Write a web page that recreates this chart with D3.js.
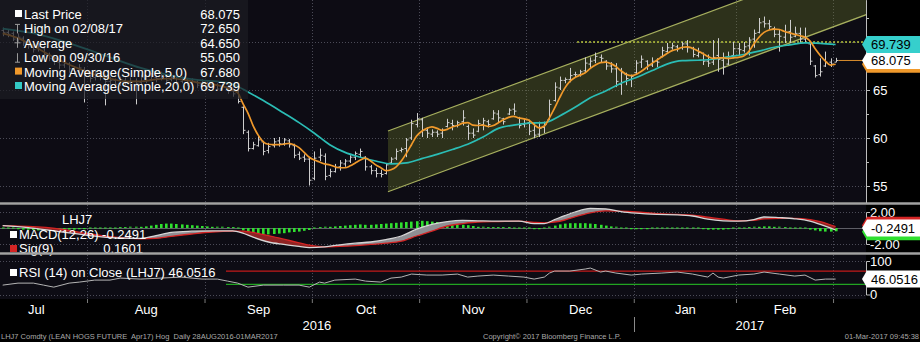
<!DOCTYPE html>
<html>
<head>
<meta charset="utf-8">
<title>LHJ7 Comdty</title>
<script src="https://cdn.jsdelivr.net/npm/d3@7/dist/d3.min.js"></script>
<style>
  html, body { margin: 0; padding: 0; background: #000; }
  svg { display: block; }
  text { font-family: "Liberation Sans", Arial, Helvetica, sans-serif; }
</style>
</head>
<body>
<svg id="chart" width="920" height="342"></svg>
<script>
// ---------- calendar (sessions counted from 1 Jul 2016) ----------
const firstSession = 3;
const monthLabels = ["Jul", "Aug", "Sep", "Oct", "Nov", "Dec", "Jan", "Feb"];
const monthStarts = [0, 20, 43, 64, 85, 106, 127, 147, 166];
const yearLabels = ["2016", "2017"];
const yearBreak = 127;

// ---------- daily OHLC bars, one value per session from firstSession ----------
const openP = [
  71.2, 71.0, 70.9, 70.2, 70.4, 69.8, 69.5, 69.3, 69.3, 68.6,
  68.2, 67.9, 67.6, 67.7, 67.1, 67.0, 67.1, 66.6, 66.3, 66.7,
  66.3, 65.9, 66.0, 65.7, 66.0, 65.8, 65.9, 65.8, 66.2, 66.1,
  66.3, 66.2, 66.4, 66.1, 66.2, 65.9, 66.0, 65.8, 65.8, 65.6,
  65.7, 65.4, 65.5, 65.2, 65.3, 64.9, 64.8, 63.2, 60.6, 58.9,
  59.2, 59.6, 58.7, 59.2, 59.7, 59.4, 59.7, 59.2, 58.3, 58.0,
  57.8, 55.8, 58.0, 58.1, 56.1, 56.5, 57.0, 57.3, 57.6, 58.0,
  58.3, 58.0, 57.0, 56.6, 56.3, 56.3, 57.4, 57.9, 58.7, 58.9,
  60.0, 61.4, 61.9, 60.8, 60.4, 60.6, 60.5, 61.2, 61.5, 61.3,
  61.7, 61.2, 60.5, 60.7, 61.4, 61.7, 62.0, 62.5, 62.0, 62.5,
  63.0, 62.1, 61.4, 61.6, 60.8, 60.4, 61.1, 61.9, 63.9, 65.2,
  66.0, 66.1, 66.6, 66.6, 67.0, 67.7, 68.1, 68.4, 68.0, 67.5,
  67.2, 65.6, 66.6, 66.1, 66.8, 67.9, 68.0, 67.6, 68.0, 68.5,
  69.0, 69.4, 69.5, 69.4, 69.8, 69.3, 68.6, 68.8, 68.0, 67.9,
  68.6, 68.1, 67.7, 68.6, 69.3, 69.1, 69.6, 70.3, 71.0, 72.1,
  71.9, 71.4, 70.8, 70.5, 71.1, 70.6, 70.9, 70.3, 69.8, 67.5,
  66.6, 67.5, 67.9, 67.9
];
const highP = [
  71.5, 71.3, 71.1, 70.9, 70.6, 70.1, 69.8, 69.9, 69.5, 68.9,
  68.6, 68.2, 68.2, 67.9, 67.5, 67.7, 67.4, 66.9, 67.1, 66.9,
  66.6, 66.4, 66.2, 66.4, 66.3, 66.3, 66.2, 66.6, 66.5, 66.8,
  66.6, 66.9, 66.6, 66.6, 66.4, 66.4, 66.2, 66.2, 66.0, 66.1,
  65.9, 65.9, 65.7, 65.7, 65.5, 65.2, 65.0, 63.3, 60.8, 59.6,
  60.2, 59.7, 59.5, 60.0, 60.1, 60.0, 59.9, 59.4, 58.6, 58.3,
  58.0, 58.6, 58.9, 58.4, 56.8, 57.3, 57.7, 57.8, 58.2, 58.6,
  58.9, 58.1, 57.2, 56.9, 56.7, 57.4, 58.0, 58.9, 59.0, 60.0,
  61.9, 62.6, 62.1, 61.1, 60.9, 60.8, 61.0, 62.0, 61.9, 61.8,
  62.9, 61.4, 61.0, 61.9, 62.1, 61.9, 62.9, 62.9, 62.1, 63.1,
  63.6, 62.2, 62.0, 61.9, 61.6, 61.7, 61.7, 64.0, 65.8, 66.4,
  66.3, 67.3, 66.9, 67.1, 68.4, 68.4, 68.9, 68.7, 68.1, 67.9,
  67.8, 67.3, 66.8, 66.6, 68.1, 68.6, 68.1, 68.4, 68.3, 69.5,
  69.9, 69.9, 69.7, 70.0, 70.2, 69.5, 69.4, 68.9, 68.7, 70.2,
  70.4, 68.9, 69.0, 70.0, 69.9, 70.0, 70.5, 71.3, 72.5, 72.65,
  72.3, 71.6, 71.3, 71.8, 72.3, 71.6, 71.5, 71.5, 69.9, 67.6,
  68.3, 69.0, 68.3, 68.35
];
const lowP = [
  70.6, 70.5, 70.1, 70.0, 69.6, 69.3, 68.9, 69.0, 68.4, 68.0,
  67.6, 67.2, 67.3, 66.8, 66.5, 66.8, 63.7, 65.8, 66.0, 66.0,
  63.4, 65.5, 65.2, 65.4, 65.5, 65.4, 63.5, 65.5, 65.7, 65.9,
  65.8, 66.0, 65.7, 65.9, 65.5, 65.7, 65.4, 65.5, 65.2, 65.4,
  65.1, 65.2, 64.9, 65.0, 64.6, 64.3, 63.6, 60.4, 58.6, 58.8,
  59.1, 58.2, 58.4, 59.0, 59.1, 59.2, 59.0, 57.9, 57.7, 57.5,
  55.05, 55.6, 57.6, 55.6, 55.9, 56.4, 56.6, 57.0, 57.4, 57.7,
  58.0, 56.6, 56.2, 55.9, 55.9, 56.2, 57.3, 57.7, 58.5, 58.0,
  59.8, 61.1, 60.1, 60.0, 60.1, 60.1, 60.0, 61.1, 60.8, 61.1,
  61.3, 59.8, 60.0, 60.6, 60.8, 61.1, 61.9, 61.6, 61.4, 62.4,
  62.4, 61.0, 61.1, 60.3, 60.0, 60.1, 60.5, 61.9, 63.8, 65.0,
  65.7, 65.8, 66.3, 66.4, 66.8, 67.3, 67.8, 67.9, 67.1, 66.8,
  65.3, 64.5, 65.5, 65.3, 66.6, 67.3, 67.1, 67.4, 67.4, 68.4,
  68.9, 69.2, 69.0, 69.2, 68.9, 68.4, 68.4, 67.6, 67.4, 67.6,
  66.9, 66.6, 67.6, 68.3, 68.6, 68.9, 68.6, 69.4, 70.9, 71.5,
  71.3, 70.5, 69.0, 69.9, 69.9, 70.5, 69.9, 70.0, 67.6, 66.3,
  66.4, 67.4, 67.4, 67.9
];
const closeP = [
  71.0, 70.8, 70.3, 70.5, 69.9, 69.6, 69.2, 69.5, 68.7, 68.3,
  68.0, 67.6, 67.8, 67.2, 66.9, 67.3, 66.5, 66.2, 66.8, 66.4,
  65.9, 66.0, 65.6, 66.1, 65.8, 65.9, 65.7, 66.3, 66.0, 66.4,
  66.2, 66.5, 66.0, 66.3, 65.8, 66.1, 65.7, 65.9, 65.5, 65.8,
  65.4, 65.6, 65.1, 65.4, 64.9, 64.6, 63.8, 60.8, 58.9, 59.3,
  59.8, 58.6, 59.1, 59.6, 59.4, 59.8, 59.3, 58.2, 57.9, 57.8,
  55.6, 57.9, 58.2, 56.0, 56.5, 56.9, 57.4, 57.6, 58.0, 58.4,
  58.6, 57.0, 56.6, 56.3, 56.2, 57.2, 57.8, 58.6, 58.8, 59.8,
  61.5, 62.0, 60.8, 60.5, 60.6, 60.4, 60.8, 61.6, 61.3, 61.6,
  62.1, 60.5, 60.3, 61.5, 61.8, 61.4, 62.6, 62.1, 61.7, 62.9,
  62.8, 61.3, 61.5, 60.7, 60.3, 61.0, 61.4, 63.5, 65.3, 66.0,
  66.1, 66.5, 66.6, 66.9, 67.8, 68.0, 68.5, 68.3, 67.5, 67.2,
  65.9, 66.8, 66.2, 66.4, 67.8, 68.2, 67.6, 68.0, 67.9, 69.1,
  69.4, 69.6, 69.3, 69.8, 69.4, 68.7, 68.9, 68.0, 67.8, 68.4,
  68.2, 67.4, 68.5, 69.3, 69.2, 69.5, 70.2, 70.9, 72.0, 71.9,
  71.6, 70.8, 70.6, 71.0, 70.5, 70.9, 70.3, 70.4, 68.0, 66.5,
  66.9, 67.9, 67.7, 68.075
];

// ---------- moving averages (session, value) ----------
const ma5Idx = [3, 6, 9, 12, 15, 18, 21, 24, 27, 30, 33, 36, 39, 42, 45, 48,
  49, 50, 51, 52, 53, 54, 55, 56, 57, 58, 59, 60, 61, 62, 63, 64, 65, 66, 67, 68,
  69, 70, 71, 72, 73, 74, 75, 76, 77, 78, 79, 80, 81, 82, 83, 84, 85, 86, 87, 88,
  89, 90, 91, 92, 93, 94, 95, 96, 97, 98, 99, 100, 101, 102, 103, 104, 105, 106, 107, 108,
  109, 110, 111, 112, 113, 114, 115, 116, 117, 118, 119, 120, 121, 122, 123, 124, 125, 126, 127, 128,
  129, 130, 131, 132, 133, 134, 135, 136, 137, 138, 139, 140, 141, 142, 143, 144, 145, 146, 147, 148,
  149, 150, 151, 152, 153, 154, 155, 156, 157, 158, 159, 160, 161, 162, 163, 164, 165, 166];
const ma5Val = [70.9, 70.4, 69.6, 68.7, 67.9, 67.2, 66.6, 66.2, 65.9, 65.9, 66.1, 66.2, 66.0, 65.7, 65.5, 65.0,
  64.7, 63.6, 62.6, 61.3, 60.3, 59.6, 59.35, 59.3, 59.3, 59.35, 59.45, 59.3, 59.0, 58.5, 58.0, 57.7, 57.5, 57.3, 57.2, 57.0,
  56.9, 56.9, 57.1, 57.4, 57.7, 57.9, 57.6, 57.2, 56.9, 56.6, 56.7, 57.0, 57.6, 58.4, 59.3, 60.2, 60.7, 61.0, 61.15, 61.0,
  60.8, 60.9, 61.15, 61.3, 61.55, 61.6, 61.35, 61.3, 61.35, 61.2, 61.3, 61.6, 61.9, 62.15, 62.25, 62.1, 62.0, 61.85, 61.4, 61.05,
  61.25, 62.1, 63.1, 64.2, 65.2, 65.9, 66.3, 66.55, 66.8, 67.25, 67.6, 67.85, 67.9, 67.75, 67.45, 67.0, 66.65, 66.5, 66.65, 66.95,
  67.35, 67.75, 68.1, 68.45, 68.8, 69.1, 69.25, 69.45, 69.5, 69.35, 69.1, 68.8, 68.5, 68.3, 68.35, 68.35, 68.3, 68.35, 68.4, 68.55,
  69.0, 69.8, 70.5, 71.0, 71.25, 71.35, 71.3, 71.1, 70.95, 70.8, 70.65, 70.5, 70.1, 69.3, 68.6, 68.0, 67.6, 67.68];
const ma20Idx = [3, 10, 17, 24, 30, 36, 42, 45, 48, 51, 54, 58, 61, 64, 67, 70, 73, 76, 79, 82, 85, 88,
  91, 94, 97, 100, 103, 106, 109, 112, 115, 118, 121, 124, 127, 130, 133, 136, 139, 142, 145, 148,
  151, 154, 157, 160, 163, 166];
const ma20Val = [71.4, 70.8, 69.7, 68.4, 67.3, 66.5, 66.0, 65.9, 65.6, 64.8, 63.9, 62.6, 61.6, 60.5, 59.3, 58.5, 58.0, 57.6, 57.3, 57.4, 57.85, 58.3,
  58.8, 59.35, 60.1, 61.0, 61.35, 61.55, 61.6, 62.3, 63.2, 64.2, 64.9, 65.7, 66.3, 67.0, 67.7, 68.05, 68.1, 68.2, 68.45, 68.7,
  69.05, 69.45, 69.7, 69.9, 69.85, 69.739];

// ---------- trend channel and resistance level ----------
const chanIdx = [78.9, 172.5];
const chanLower = [54.4, 72.85];
const chanUpper = [60.73, 79.18];
const levelFrom = 115.9;
const levelValue = 70.0;

// ---------- MACD(12,26) with Sig(9) ----------
const macdIdx = [3, 8, 14, 20, 25, 30, 33, 36, 40, 44, 48, 50, 52, 55, 58, 61, 63, 66, 69, 72, 75, 78, 81, 84, 87, 90,
  93, 96, 100, 104, 107, 109, 111, 113, 115, 118, 121, 124, 127, 131, 135, 138, 141, 144, 147, 150, 152, 155, 158, 161, 163, 166];
const macdVal = [0.30, 0.05, -0.45, -0.95, -1.25, -1.30, -0.95, -0.55, -0.40, -0.35, -0.35, -0.65, -1.15, -1.75, -2.05, -2.30, -2.45, -2.35, -2.10, -1.90, -1.75, -1.45, -1.00, -0.15, 0.45, 0.80,
  0.95, 0.90, 0.85, 0.85, 0.55, 0.55, 1.05, 1.55, 2.00, 2.45, 2.40, 2.05, 1.85, 1.70, 1.65, 1.50, 1.10, 0.90, 0.85, 1.05, 1.40, 1.30, 1.15, 0.85, 0.45, -0.2491];
const sigVal = [0.30, 0.20, -0.10, -0.75, -1.15, -1.35, -1.30, -1.05, -0.75, -0.50, -0.40, -0.40, -0.55, -0.95, -1.40, -1.85, -2.15, -2.35, -2.30, -2.20, -2.05, -1.90, -1.65, -1.00, -0.40, 0.25,
  0.55, 0.75, 0.80, 0.85, 0.70, 0.65, 0.75, 1.00, 1.40, 1.90, 2.15, 2.10, 2.00, 1.80, 1.70, 1.60, 1.35, 1.10, 0.90, 0.95, 1.15, 1.20, 1.20, 1.05, 0.80, 0.1601];
const histVal = [
  -0.05, -0.1, -0.1, -0.15, -0.2, -0.2, -0.25, -0.3, -0.3, -0.3,
  -0.3, -0.25, -0.25, -0.2, -0.2, -0.15, -0.15, -0.1, -0.1, -0.05,
  -0.05, 0, 0, 0.05, 0.05, 0.1, 0.1, 0.15, 0.2, 0.3,
  0.4, 0.5, 0.55, 0.55, 0.5, 0.45, 0.4, 0.35, 0.3, 0.25,
  0.2, 0.15, 0.1, 0.1, 0.05, 0.05, -0.1, -0.3, -0.5, -0.65,
  -0.75, -0.8, -0.8, -0.75, -0.7, -0.65, -0.55, -0.5, -0.45, -0.35,
  -0.25, -0.1, 0.05, 0.1, 0.15, 0.2, 0.25, 0.3, 0.35, 0.4,
  0.45, 0.4, 0.4, 0.45, 0.5, 0.55, 0.6, 0.65, 0.7, 0.75,
  0.8, 0.85, 0.9, 0.85, 0.8, 0.75, 0.65, 0.55, 0.45, 0.4,
  0.4, 0.35, 0.25, 0.15, 0.1, 0.05, 0.05, 0.05, 0.05, 0.05,
  0, 0, -0.05, -0.1, -0.15, -0.15, -0.1, 0.1, 0.3, 0.45,
  0.55, 0.6, 0.6, 0.6, 0.6, 0.55, 0.5, 0.4, 0.3, 0.2,
  0.1, 0, -0.1, -0.15, -0.15, -0.15, -0.15, -0.1, -0.1, -0.05,
  -0.05, -0.05, -0.05, -0.05, -0.05, -0.1, -0.1, -0.15, -0.2, -0.2,
  -0.2, -0.2, -0.15, -0.1, -0.05, 0, 0.05, 0.1, 0.15, 0.2,
  0.2, 0.15, 0.1, 0.05, 0, -0.05, -0.05, -0.1, -0.2, -0.3,
  -0.4, -0.45, -0.45, -0.41
];

// ---------- RSI(14) on close ----------
const rsiIdx = [3, 6, 9, 11, 13, 16, 18, 21, 24, 26, 30, 34, 38, 42, 45, 47, 49, 51, 54, 58, 61, 63, 65, 66, 68, 72, 74, 77,
  79, 81, 83, 86, 89, 92, 94, 96, 99, 102, 105, 107, 109, 110, 111, 114, 117, 118, 120, 121, 123, 126, 128, 132, 135,
  138, 141, 142, 143, 144, 147, 150, 152, 155, 158, 160, 162, 164, 166];
const rsiVal = [28, 34, 34, 28, 22, 34, 37, 43, 43, 49, 46, 49, 52, 46, 46, 40, 34, 22, 28, 28, 28, 22, 37, 34, 43, 46, 40, 37,
  49, 52, 61, 58, 58, 61, 52, 55, 58, 55, 52, 46, 52, 64, 70, 70, 76, 79, 67, 70, 64, 58, 61, 64, 67,
  61, 52, 64, 52, 49, 58, 61, 67, 61, 55, 58, 43, 46, 46.0516];
const rsiLevels = [70, 30];
const rsiGuideFrom = 47.2;

// ---------- text ----------
const legendRows = [
  { mark: "square", color: "#ffffff", label: "Last Price", value: "68.075" },
  { mark: "high", label: "High on 02/08/17", value: "72.650" },
  { mark: "avg", label: "Average", value: "64.650" },
  { mark: "low", label: "Low on 09/30/16", value: "55.050" },
  { mark: "square", color: "#f0992b", label: "Moving Average(Simple,5,0)", value: "67.680" },
  { mark: "square", color: "#33c9c4", label: "Moving Average(Simple,20,0)", value: "69.739" }
];
const priceTickLabels = [55, 60, 65];
const priceTickMarks = [55, 60, 65, 70];
const priceMinorTicks = [57.5, 62.5, 67.5, 72.5];
const footerLeft = "LHJ7 Comdty (LEAN HOGS FUTURE  Apr17) Hog  Daily 28AUG2016-01MAR2017";
const footerMid = "Copyright\u00A9 2017 Bloomberg Finance L.P.";
const footerRight = "01-Mar-2017 09:45:38";

// ---------- layout ----------
const W = 920, H = 342, PLOT_R = 866;
const PANEL = { price: [0, 202], macd: [205, 252], rsi: [255, 299] };
const COL = {
  bg: "#0d0c14", grid: "#4b4b57", bar: "#cdcdcd", ma5: "#f0992b", ma20: "#2bbdb5",
  chanFill: "#6f7d2c", chanLine: "#a6af5e", level: "#b9c63c",
  macd: "#d6d6d6", sig: "#d42424", hist: "#2fe02f", axis: "#bdbdbd"
};

const x = d3.scaleLinear().domain([0, 170]).range([-15.2, -15.2 + 170 * 5.11]);
const yP = d3.scaleLinear().domain([55, 70]).range([186, 42]);
const yM = d3.scaleLinear().domain([-2, 2]).range([244, 212]);
const yR = d3.scaleLinear().domain([0, 100]).range([294.5, 261]);
const cx = i => x(i + 0.5);

const svg = d3.select("#chart");
const defs = svg.append("defs");
function panelClip(id, [a, b]) {
  defs.append("clipPath").attr("id", id).append("rect")
    .attr("x", 0).attr("y", a).attr("width", PLOT_R).attr("height", b - a);
}
panelClip("clip-price", PANEL.price);
panelClip("clip-macd", PANEL.macd);
panelClip("clip-rsi", PANEL.rsi);

svg.append("rect").attr("width", W).attr("height", H).attr("fill", "#000");
Object.values(PANEL).forEach(([a, b]) => {
  svg.append("rect").attr("x", 0).attr("y", a).attr("width", PLOT_R).attr("height", b - a).attr("fill", COL.bg);
});

// dotted grid
const boundaries = monthStarts.filter(s => x(s) > 1 && x(s) < PLOT_R);
const gridG = svg.append("g").attr("stroke", COL.grid).attr("stroke-dasharray", "1,2").attr("fill", "none");
Object.values(PANEL).forEach(([a, b]) => {
  gridG.append("g").selectAll("line").data(boundaries).join("line")
    .attr("x1", s => Math.round(x(s)) + 0.5).attr("x2", s => Math.round(x(s)) + 0.5)
    .attr("y1", a).attr("y2", b);
});
const hGrid = [...priceTickMarks.map(v => yP(v)), yM(2), yM(-2), yR(100), yR(0)];
gridG.append("g").selectAll("line").data(hGrid).join("line")
  .attr("x1", 0).attr("x2", PLOT_R).attr("y1", d => Math.round(d) + 0.5).attr("y2", d => Math.round(d) + 0.5);

// ---------- price panel ----------
const pg = svg.append("g").attr("clip-path", "url(#clip-price)");
const chanPoly = [
  [x(chanIdx[0]), yP(chanLower[0])], [x(chanIdx[1]), yP(chanLower[1])],
  [x(chanIdx[1]), yP(chanUpper[1])], [x(chanIdx[0]), yP(chanUpper[0])]
];
pg.append("path").attr("d", d3.line()(chanPoly) + "Z").attr("fill", COL.chanFill).attr("fill-opacity", 0.33);
[chanLower, chanUpper].forEach(edge => {
  pg.append("line")
    .attr("x1", x(chanIdx[0])).attr("y1", yP(edge[0])).attr("x2", x(chanIdx[1])).attr("y2", yP(edge[1]))
    .attr("stroke", COL.chanLine).attr("stroke-width", 1.2);
});
pg.append("line")
  .attr("x1", x(levelFrom)).attr("x2", PLOT_R).attr("y1", yP(levelValue)).attr("y2", yP(levelValue))
  .attr("stroke", COL.level).attr("stroke-width", 1.4).attr("stroke-dasharray", "2,2");

const bars = openP.map((o, k) => ({ i: firstSession + k, o, h: highP[k], l: lowP[k], c: closeP[k] }));
pg.append("g").attr("stroke", COL.bar).attr("stroke-width", 1).attr("fill", "none")
  .selectAll("path").data(bars).join("path")
  .attr("d", d => {
    const bx = Math.round(cx(d.i)) + 0.5;
    return `M${bx},${yP(d.h)}V${yP(d.l)}M${bx - 2},${yP(d.o)}H${bx}M${bx},${yP(d.c)}H${bx + 2}`;
  });

const maLine = d3.line().x(d => cx(d[0])).y(d => yP(d[1])).curve(d3.curveMonotoneX);
pg.append("path").datum(d3.zip(ma20Idx, ma20Val)).attr("d", maLine)
  .attr("fill", "none").attr("stroke", COL.ma20).attr("stroke-width", 1.7);
pg.append("path").datum(d3.zip(ma5Idx, ma5Val)).attr("d", maLine)
  .attr("fill", "none").attr("stroke", COL.ma5).attr("stroke-width", 1.7);

const lastClose = closeP[closeP.length - 1];
const lastSession = firstSession + closeP.length - 1;
pg.append("line")
  .attr("x1", cx(lastSession) + 3).attr("x2", PLOT_R).attr("y1", yP(lastClose)).attr("y2", yP(lastClose))
  .attr("stroke", "#d88d2e").attr("stroke-width", 1);

// legend
const lg = svg.append("g");
lg.append("rect").attr("x", 0).attr("y", 0).attr("width", 248).attr("height", 99)
  .attr("fill", "#1c1c23").attr("fill-opacity", 0.72);
legendRows.forEach((r, k) => {
  const yb = 19 + k * 14.4;
  if (r.mark === "square") {
    lg.append("rect").attr("x", 15).attr("y", yb - 9).attr("width", 7).attr("height", 7).attr("fill", r.color);
  } else {
    const glyph = {
      high: `M15,${yb - 9}H20M17.5,${yb - 9}V${yb}`,
      avg: `M17.5,${yb - 10}V${yb}M14.5,${yb - 5}H20.5`,
      low: `M17.5,${yb - 9}V${yb}M15,${yb}H20`
    }[r.mark];
    lg.append("path").attr("d", glyph).attr("stroke", "#9a9a9a").attr("fill", "none").attr("stroke-width", 1);
  }
  lg.append("text").attr("x", 24).attr("y", yb).attr("fill", "#fff").attr("font-size", 13).text(r.label);
  lg.append("text").attr("x", 240).attr("y", yb).attr("fill", "#fff").attr("font-size", 13)
    .attr("text-anchor", "end").text(r.value);
});

// ---------- MACD panel ----------
const mg = svg.append("g").attr("clip-path", "url(#clip-macd)");
mg.append("line").attr("x1", 0).attr("x2", PLOT_R).attr("y1", Math.round(yM(0)) + 0.5).attr("y2", Math.round(yM(0)) + 0.5)
  .attr("stroke", "#5e5e66").attr("stroke-width", 1);
const histData = histVal.map((v, k) => ({ i: firstSession + k, v }));
mg.append("g").selectAll("rect").data(histData).join("rect")
  .attr("x", d => Math.round(cx(d.i)) - 1)
  .attr("width", 2.6)
  .attr("y", d => Math.min(yM(0), yM(d.v)) - (Math.abs(yM(d.v) - yM(0)) < 1 ? 0.5 : 0))
  .attr("height", d => Math.max(1, Math.abs(yM(d.v) - yM(0))))
  .attr("fill", COL.hist);

const macdPts = macdIdx.map((i, k) => ({ i, m: macdVal[k], s: sigVal[k] }));
const band = d3.area().x(d => cx(d.i)).y0(d => yM(d.s)).y1(d => yM(d.m)).curve(d3.curveMonotoneX);
const aboveMacd = d3.area().x(d => cx(d.i)).y0(PANEL.macd[0] - 10).y1(d => yM(d.m)).curve(d3.curveMonotoneX);
const belowMacd = d3.area().x(d => cx(d.i)).y0(d => yM(d.m)).y1(PANEL.macd[1] + 10).curve(d3.curveMonotoneX);
defs.append("clipPath").attr("id", "macd-under").append("path").attr("d", aboveMacd(macdPts));
defs.append("clipPath").attr("id", "macd-over").append("path").attr("d", belowMacd(macdPts));
mg.append("g").attr("clip-path", "url(#macd-over)")
  .append("path").attr("d", band(macdPts)).attr("fill", "#8f8f94");
mg.append("g").attr("clip-path", "url(#macd-under)")
  .append("path").attr("d", band(macdPts)).attr("fill", "#8e2323");
mg.append("path").datum(macdPts)
  .attr("d", d3.line().x(d => cx(d.i)).y(d => yM(d.s)).curve(d3.curveMonotoneX))
  .attr("fill", "none").attr("stroke", COL.sig).attr("stroke-width", 1.3);
mg.append("path").datum(macdPts)
  .attr("d", d3.line().x(d => cx(d.i)).y(d => yM(d.m)).curve(d3.curveMonotoneX))
  .attr("fill", "none").attr("stroke", COL.macd).attr("stroke-width", 1.3);

const mLegend = svg.append("g").attr("font-size", 13).attr("fill", "#fff");
mLegend.append("text").attr("x", 62).attr("y", 224).text("LHJ7");
mLegend.append("rect").attr("x", 10).attr("y", 231).attr("width", 7).attr("height", 7).attr("fill", "#fff");
mLegend.append("text").attr("x", 19).attr("y", 239)
  .text(`MACD(12,26) ${macdVal[macdVal.length - 1].toFixed(4)}`);
mLegend.append("rect").attr("x", 10).attr("y", 245).attr("width", 7).attr("height", 7).attr("fill", COL.sig);
mLegend.append("text").attr("x", 19).attr("y", 253).text("Sig(9)");
mLegend.append("text").attr("x", 143).attr("y", 253).attr("text-anchor", "end")
  .text(sigVal[sigVal.length - 1].toFixed(4));

// ---------- RSI panel ----------
const rg = svg.append("g").attr("clip-path", "url(#clip-rsi)");
rsiLevels.forEach((lv, k) => {
  rg.append("line").attr("x1", x(rsiGuideFrom)).attr("x2", PLOT_R)
    .attr("y1", yR(lv)).attr("y2", yR(lv))
    .attr("stroke", k === 0 ? "#c21a1a" : "#22a422").attr("stroke-width", 1.2);
});
rg.append("path").datum(d3.zip(rsiIdx, rsiVal))
  .attr("d", d3.line().x(d => cx(d[0])).y(d => yR(d[1])))
  .attr("fill", "none").attr("stroke", "#b4b4b4").attr("stroke-width", 1);
const rLegend = svg.append("g").attr("font-size", 13).attr("fill", "#fff");
rLegend.append("rect").attr("x", 10).attr("y", 269).attr("width", 7).attr("height", 7).attr("fill", "#fff");
rLegend.append("text").attr("x", 19).attr("y", 277)
  .text(`RSI (14) on Close (LHJ7) ${rsiVal[rsiVal.length - 1].toFixed(4)}`);

// ---------- panel separators ----------
[203.5, 253.5].forEach(yy => {
  svg.append("line").attr("x1", 0).attr("x2", W).attr("y1", yy).attr("y2", yy)
    .attr("stroke", "#a2a2a2").attr("stroke-width", 2.5);
});

// ---------- right axes ----------
function styleAxis(g) {
  g.selectAll(".domain").attr("stroke", COL.axis);
  g.selectAll(".tick line").attr("stroke", COL.axis);
  g.selectAll(".tick text").attr("fill", "#fff").attr("font-size", 13)
    .attr("font-family", '"Liberation Sans", Arial, sans-serif');
}
const yPaxis = yP.copy().domain([yP.invert(PANEL.price[0]), yP.invert(PANEL.price[1])])
  .range([PANEL.price[0], PANEL.price[1]]);
svg.append("g").attr("transform", `translate(${PLOT_R},0)`)
  .call(d3.axisRight(yPaxis).tickValues(priceMinorTicks).tickSize(3).tickSizeOuter(0).tickFormat(""))
  .call(styleAxis);
svg.append("g").attr("transform", `translate(${PLOT_R},0)`)
  .call(d3.axisRight(yPaxis).tickValues(priceTickMarks).tickSize(4).tickSizeOuter(0).tickFormat(""))
  .call(styleAxis);
svg.append("g").attr("transform", `translate(${PLOT_R},0)`)
  .call(d3.axisRight(yPaxis).tickValues(priceTickLabels).tickSize(4).tickSizeOuter(0).tickPadding(3)
    .tickFormat(d3.format("d")))
  .call(styleAxis);
svg.append("g").attr("transform", `translate(${PLOT_R},0)`)
  .call(d3.axisRight(yM).tickValues([2, -2]).tickSize(0).tickSizeOuter(4).tickPadding(4)
    .tickFormat(d => d.toFixed(2)))
  .call(styleAxis);
svg.append("g").attr("transform", `translate(${PLOT_R},0)`)
  .call(d3.axisRight(yR).tickValues([100, 0]).tickSize(0).tickSizeOuter(4).tickPadding(4)
    .tickFormat(d3.format("d")))
  .call(styleAxis);

// value tags on the axis
function tag(cy, fill, label, textFill) {
  const h = 8.5;
  svg.append("path")
    .attr("d", `M${PLOT_R - 4},${cy}L${PLOT_R + 1},${cy - h}H${W}V${cy + h}H${PLOT_R + 1}Z`)
    .attr("fill", fill);
  if (label) {
    svg.append("text").attr("x", 871).attr("y", cy + 4.7).attr("font-size", 13)
      .attr("fill", textFill || "#000").text(label);
  }
}
const ma5Last = ma5Val[ma5Val.length - 1];
const ma20Last = ma20Val[ma20Val.length - 1];
tag(yP(ma5Last), COL.ma5, null);
tag(yP(lastClose), "#ffffff", lastClose.toFixed(3));
tag(yP(ma20Last), "#36cfcc", ma20Last.toFixed(3));

const macdLast = macdVal[macdVal.length - 1], sigLast = sigVal[sigVal.length - 1], histLast = histVal[histVal.length - 1];
tag(yM(histLast) + 0.5, COL.hist, null);
tag(yM(sigLast) - 1.5, COL.sig, null);
tag(yM(macdLast) - 2, "#ffffff", macdLast.toFixed(4));
tag(yR(rsiVal[rsiVal.length - 1]), "#ffffff", rsiVal[rsiVal.length - 1].toFixed(4));

// ---------- time axis ----------
const xAxisG = svg.append("g").attr("transform", `translate(0,${PANEL.rsi[1]})`);
xAxisG.append("g")
  .call(d3.axisBottom(x).tickValues(boundaries).tickSize(4).tickFormat(""))
  .call(g => { g.select(".domain").remove(); g.selectAll(".tick line").attr("stroke", "#7a7a7a"); });
const monthMids = monthLabels.map((_, k) => (monthStarts[k] + monthStarts[k + 1]) / 2);
xAxisG.append("g")
  .call(d3.axisBottom(x).tickValues(monthMids).tickSize(0).tickPadding(6)
    .tickFormat((d, k) => monthLabels[k]))
  .call(g => {
    g.select(".domain").remove();
    g.selectAll(".tick text").attr("fill", "#fff").attr("font-size", 13)
      .attr("font-family", '"Liberation Sans", Arial, sans-serif');
  });

const leftEdge = x.invert(0), rightEdge = x.invert(PLOT_R);
const yearMids = [(leftEdge + yearBreak) / 2, (yearBreak + rightEdge) / 2];
svg.append("g").selectAll("text").data(yearLabels).join("text")
  .attr("x", (d, k) => x(yearMids[k])).attr("y", 330).attr("text-anchor", "middle")
  .attr("font-size", 13).attr("fill", "#fff").text(d => d);
svg.append("line").attr("x1", Math.round(x(yearBreak)) + 0.5).attr("x2", Math.round(x(yearBreak)) + 0.5)
  .attr("y1", 317).attr("y2", 332).attr("stroke", "#8a8a8a");

// ---------- footer ----------
const foot = svg.append("g").attr("font-size", 7.5).attr("fill", "#a9a9a9");
[[1, "start", footerLeft], [483, "start", footerMid], [919, "end", footerRight]].forEach(([fx, anchor, str]) => {
  foot.append("text").attr("x", fx).attr("y", 339).attr("text-anchor", anchor)
    .attr("xml:space", "preserve").style("white-space", "pre").text(str);
});
</script>
</body>
</html>
